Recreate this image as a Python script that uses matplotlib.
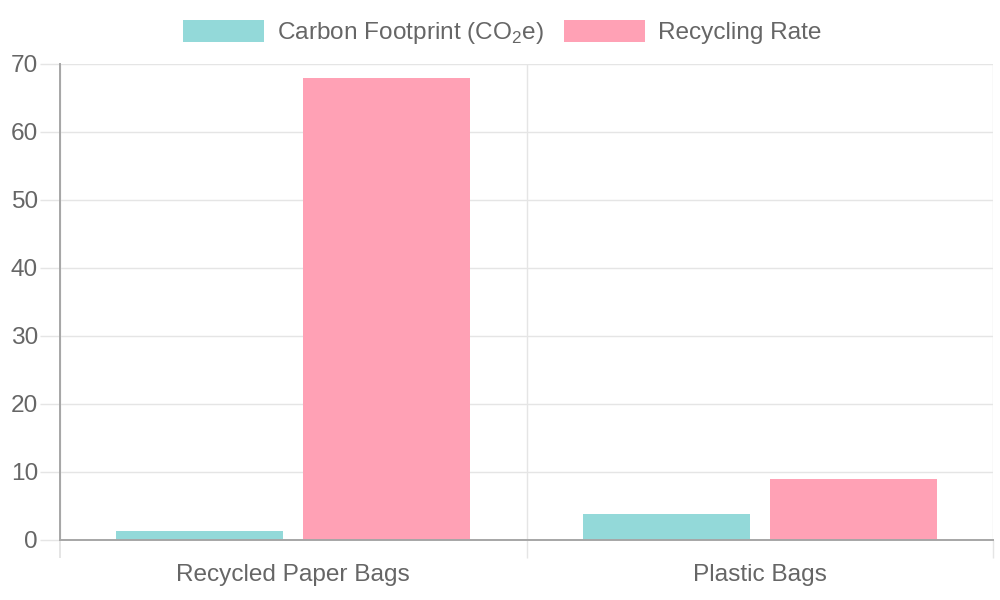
import matplotlib
matplotlib.use("Agg")
import matplotlib.pyplot as plt
import numpy as np

# data
categories = ["Recycled Paper Bags", "Plastic Bags"]
carbon_footprint = [1.3, 3.8]
recycling_rate = [68, 9]
y_ticks = [0, 10, 20, 30, 40, 50, 60, 70]

plt.rcParams['font.family'] = ['Liberation Sans', 'DejaVu Sans']
plt.rcParams['mathtext.fontset'] = 'custom'
plt.rcParams['mathtext.rm'] = 'Liberation Sans'

TEXT = '#666666'
GRID = '#e5e5e5'
AXIS = '#a6a6a6'
FS = 17.6

fig = plt.figure(figsize=(10, 6), dpi=100)
ax = fig.add_axes([0.06, 0.1, 0.933, 476 / 600])

x = np.arange(len(categories))
bw = 0.358
ax.bar(x - 0.2, carbon_footprint, bw, color='#93d9d9', label=r'Carbon Footprint (CO$_\mathregular{2}$e)', zorder=3)
ax.bar(x + 0.2, recycling_rate, bw, color='#ffa1b5', label='Recycling Rate', zorder=3)

ax.set_xlim(-0.5, len(categories) - 0.5)
ax.set_ylim(0, 70)

# y axis
ax.set_yticks(y_ticks)
ax.tick_params(axis='y', length=14.4, width=1, color=GRID, pad=1.5, labelsize=FS, labelcolor=TEXT)
ax.yaxis.grid(True, color=GRID, linewidth=1, zorder=0)
ax.yaxis.get_major_ticks()[0].tick1line.set_color(AXIS)
ax.axhline(0, color=AXIS, linewidth=1.4, clip_on=False, zorder=4)

# x axis: labels at centres, grid + ticks at category edges
ax.set_xticks(x)
ax.set_xticklabels(categories)
ax.set_xticks(np.arange(len(categories) + 1) - 0.5, minor=True)
ax.tick_params(axis='x', which='major', length=0, pad=17.5, labelsize=FS, labelcolor=TEXT)
ax.tick_params(axis='x', which='minor', length=13, width=1, color=GRID)
ax.xaxis.grid(True, which='minor', color=GRID, linewidth=1, zorder=0)
first = ax.xaxis.get_minor_ticks()[0]
first.tick1line.set_color(AXIS)
first.tick1line.set_markeredgewidth(1.4)
first.tick1line.set_zorder(5)

for s in ['top', 'right', 'bottom']:
    ax.spines[s].set_visible(False)
ax.spines['left'].set_color(AXIS)
ax.spines['left'].set_linewidth(1.4)
ax.spines['left'].set_zorder(4)

leg = fig.legend(loc='center', bbox_to_anchor=(0.502, 1 - 33 / 600), ncol=2, frameon=False,
                 fontsize=FS, handlelength=3.33, handleheight=1.0, handletextpad=0.5,
                 columnspacing=0.83, borderpad=0)
for t in leg.get_texts():
    t.set_color(TEXT)

fig.savefig("out.png", dpi=100)
